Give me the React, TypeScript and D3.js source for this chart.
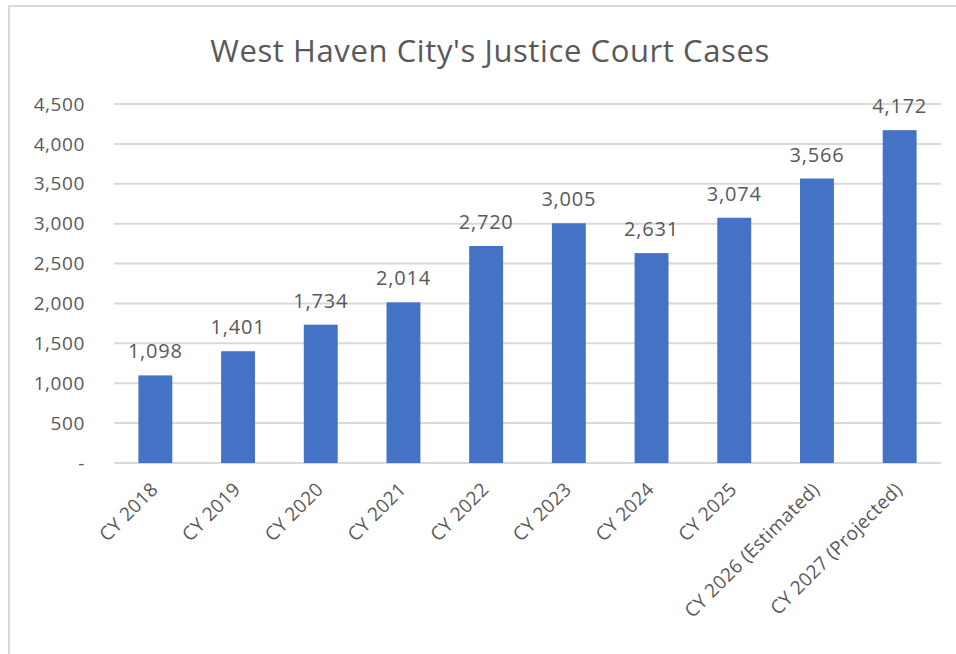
import React from "react";
import * as d3 from "d3";

const categories = [
  "CY 2018",
  "CY 2019",
  "CY 2020",
  "CY 2021",
  "CY 2022",
  "CY 2023",
  "CY 2024",
  "CY 2025",
  "CY 2026 (Estimated)",
  "CY 2027 (Projected)",
];
const cases = [1098, 1401, 1734, 2014, 2720, 3005, 2631, 3074, 3566, 4172];
const yTicks = [0, 500, 1000, 1500, 2000, 2500, 3000, 3500, 4000, 4500];
const title = "West Haven City's Justice Court Cases";

const width = 956;
const height = 654;
const margin = { top: 104, right: 15, bottom: 191, left: 114 };
const font = "'Open Sans', sans-serif";
const textColor = "#595959";

export default function App() {
  const x = d3
    .scaleBand()
    .domain(categories)
    .range([margin.left, width - margin.right])
    .paddingInner(0.59)
    .paddingOuter(0.295);

  const y = d3
    .scaleLinear()
    .domain([0, 4500])
    .range([height - margin.bottom, margin.top]);

  const fmt = d3.format(",");

  return (
    <svg
      width={width}
      height={height}
      style={{ position: "absolute", left: 0, top: 0, background: "#fff" }}
      fontFamily={font}
    >
      <rect x={0} y={0} width={width} height={height} fill="#fff" />
      <rect
        x={9}
        y={6}
        width={width + 20}
        height={height + 20}
        fill="none"
        stroke="#d9d9d9"
        strokeWidth={2}
      />
      <text
        x={490}
        y={62}
        textAnchor="middle"
        fontSize={31}
        letterSpacing={0.6}
        fill={textColor}
      >
        {title}
      </text>

      {/* gridlines and y labels */}
      {yTicks.map((t) => (
        <g key={t}>
          <line
            x1={margin.left}
            x2={width - margin.right}
            y1={y(t)}
            y2={y(t)}
            stroke="#d9d9d9"
            strokeWidth={2}
          />
          <text
            x={85}
            y={y(t)}
            dy="0.35em"
            textAnchor="end"
            fontSize={19}
            letterSpacing={0.6}
            fill={textColor}
          >
            {t === 0 ? "-" : fmt(t)}
          </text>
        </g>
      ))}

      {/* bars */}
      {categories.map((c, i) => (
        <rect
          key={c}
          x={x(c)}
          y={y(cases[i])}
          width={x.bandwidth()}
          height={y(0) - y(cases[i])}
          fill="#4472C4"
        />
      ))}

      {/* value labels */}
      {categories.map((c, i) => (
        <text
          key={c}
          x={(x(c) ?? 0) + x.bandwidth() / 2}
          y={y(cases[i]) - 17}
          textAnchor="middle"
          fontSize={20}
          letterSpacing={0.8}
          fill={textColor}
        >
          {fmt(cases[i])}
        </text>
      ))}

      {/* x labels */}
      {categories.map((c) => {
        const cx = (x(c) ?? 0) + x.bandwidth() / 2 - 1;
        const cy = y(0) + 23;
        return (
          <text
            key={c}
            transform={`translate(${cx},${cy}) rotate(-45)`}
            textAnchor="end"
            dy="0.35em"
            fontSize={19}
            letterSpacing={0.3}
            fill={textColor}
          >
            {c}
          </text>
        );
      })}
    </svg>
  );
}
